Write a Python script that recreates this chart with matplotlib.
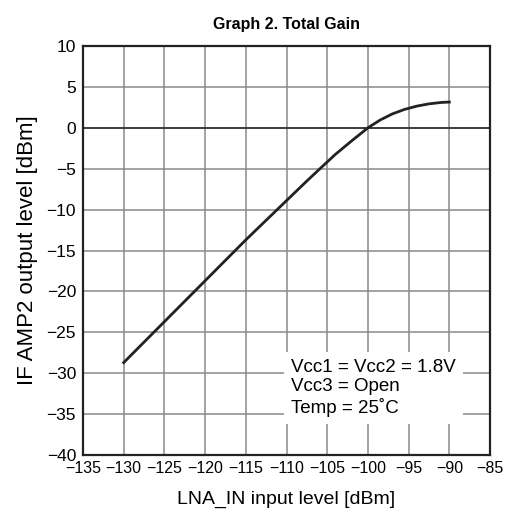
import numpy as np
import matplotlib
matplotlib.use('Agg')
import matplotlib.pyplot as plt

plt.rcParams['font.family'] = ['Liberation Sans', 'DejaVu Sans']

# input level vs output level
lna_in = [-130, -127.5, -125, -122.5, -120, -117.5, -115, -112.5, -110, -107.5,
          -106, -104, -102, -100, -98.5, -97, -95.5, -94, -92.5, -91, -90]
if_out = [-28.7, -26.2, -23.7, -21.2, -18.7, -16.2, -13.7, -11.3, -8.9, -6.5,
          -5.1, -3.25, -1.6, 0.0, 0.95, 1.7, 2.25, 2.65, 2.93, 3.1, 3.15]

x_ticks = np.arange(-135, -84, 5)
y_ticks = np.arange(-40, 11, 5)

fig = plt.figure(figsize=(5.07, 5.2), dpi=100, facecolor='white')
ax = fig.add_axes([0.1637, 0.125, 0.8028, 0.7865])

ax.plot(lna_in, if_out, color='#222222', linewidth=2, zorder=3)

ax.set_xlim(-135, -85)
ax.set_ylim(-40, 10)
ax.set_xticks(x_ticks)
ax.set_yticks(y_ticks)
ax.grid(True, color='#8a8a8a', linewidth=1.1)
ax.axhline(0, color='#222222', linewidth=1.1, zorder=2)
ax.tick_params(axis='y', length=0, labelsize=12.5, pad=5)
ax.tick_params(axis='x', length=0, labelsize=11.5, pad=4)
for s in ax.spines.values():
    s.set_linewidth(1.6)
    s.set_color('#222222')

ax.set_xlabel('LNA_IN input level [dBm]', fontsize=14, labelpad=11)
ax.set_ylabel('IF AMP2 output level [dBm]', fontsize=16, labelpad=6)
ax.set_title('Graph 2. Total Gain', fontsize=11.5, fontweight='bold', pad=12)

ax.text(-109.4, -35.4, 'Vcc1 = Vcc2 = 1.8V\nVcc3 = Open\nTemp = 25˚C',
        fontsize=13.5, linespacing=1.2, va='bottom', ha='left', zorder=4,
        bbox=dict(facecolor='white', edgecolor='none', pad=5))

fig.savefig('out.png', dpi=100, facecolor='white')
